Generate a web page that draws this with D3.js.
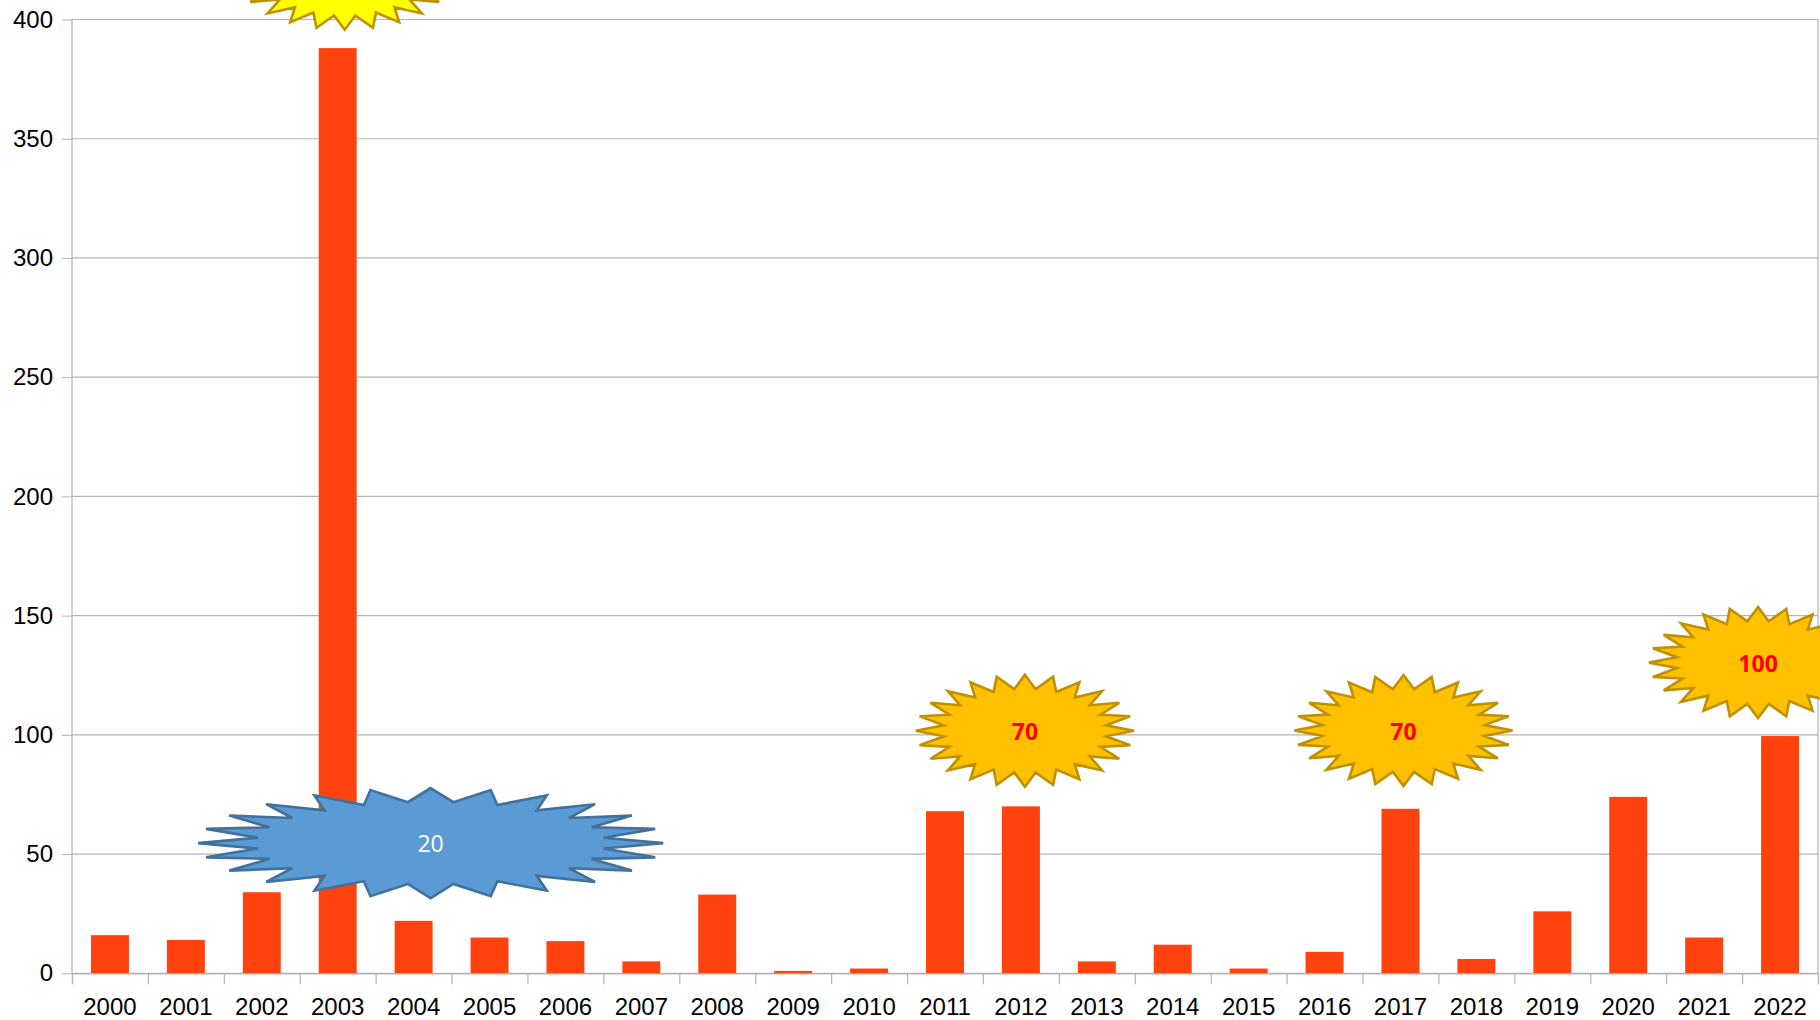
<!DOCTYPE html>
<html>
<head>
<meta charset="utf-8">
<script src="https://cdn.jsdelivr.net/npm/d3@7"></script>
<style>
  body { margin: 0; background: #fff; }
  svg { display: block; }
</style>
</head>
<body>
<svg id="chart" width="1820" height="1020"></svg>
<script>
// Data
const years = ["2000", "2001", "2002", "2003", "2004", "2005", "2006", "2007", "2008", "2009", "2010", "2011",
               "2012", "2013", "2014", "2015", "2016", "2017", "2018", "2019", "2020", "2021", "2022"];
const counts = [16, 14, 34, 388, 22, 15, 13.5, 5, 33, 1, 2, 68, 70, 5, 12, 2, 9, 69, 6, 26, 74, 15, 99.5];
const yTicks = [0, 50, 100, 150, 200, 250, 300, 350, 400];

// Starburst call-outs: label, anchor year, value at centre
const calloutLabels = ["", "20", "70", "70", "100"];
const calloutYears = ["2003", "2004", "2012", "2017", "2022"];
const calloutValues = [419, 54.6, 101.7, 101.8, 130.3];

// Layout
const margin = { left: 72, right: 2, top: 19.5, bottom: 46.7 };
const width = 1820, height = 1020;
const svg = d3.select("#chart");

const x = d3.scaleBand()
    .domain(years)
    .range([margin.left, width - margin.right])
    .paddingInner(0.5)
    .paddingOuter(0.25);

const y = d3.scaleLinear()
    .domain([0, 400])
    .range([height - margin.bottom, margin.top]);

// scale for the tick marks between categories
const xEdges = d3.scaleLinear()
    .domain([0, years.length])
    .range([margin.left, width - margin.right]);

const gridColor = "#b3b3b3";

// Horizontal grid lines + y labels
const yAxis = svg.append("g")
    .attr("transform", `translate(${margin.left},0)`)
    .call(d3.axisLeft(y).tickValues(yTicks).tickSize(10).tickPadding(9))
    .call(g => g.select(".domain").remove());
yAxis.selectAll(".tick line").attr("stroke", gridColor);
yAxis.selectAll(".tick text")
    .attr("font-family", "'Liberation Sans', Arial, sans-serif")
    .attr("font-size", 24)
    .attr("fill", "#000");

svg.append("g")
    .selectAll("line")
    .data(yTicks)
    .join("line")
    .attr("x1", margin.left)
    .attr("x2", width - margin.right)
    .attr("y1", d => y(d))
    .attr("y2", d => y(d))
    .attr("stroke", gridColor)
    .attr("stroke-width", 1.2);

// Vertical frame lines
svg.append("g")
    .selectAll("line")
    .data([0, years.length])
    .join("line")
    .attr("x1", d => xEdges(d))
    .attr("x2", d => xEdges(d))
    .attr("y1", y(400))
    .attr("y2", y(0))
    .attr("stroke", gridColor)
    .attr("stroke-width", 1.2);

// Bars
svg.append("g")
    .selectAll("rect")
    .data(counts)
    .join("rect")
    .attr("x", (d, i) => x(years[i]))
    .attr("width", x.bandwidth())
    .attr("y", d => y(d))
    .attr("height", d => y(0) - y(d))
    .attr("fill", "#ff420e");

// Bottom axis: tick marks between categories
const edgeAxis = svg.append("g")
    .attr("transform", `translate(0,${y(0)})`)
    .call(d3.axisBottom(xEdges).tickValues(d3.range(years.length + 1)).tickSize(11).tickFormat(""));
edgeAxis.select(".domain").attr("stroke", gridColor).attr("stroke-width", 1.2);
edgeAxis.selectAll(".tick line").attr("stroke", gridColor).attr("stroke-width", 1.2);

// Bottom axis: year labels
const xAxis = svg.append("g")
    .attr("transform", `translate(0,${y(0)})`)
    .call(d3.axisBottom(x).tickSize(0).tickPadding(25))
    .call(g => g.select(".domain").remove());
xAxis.selectAll(".tick text")
    .attr("font-family", "'Liberation Sans', Arial, sans-serif")
    .attr("font-size", 24)
    .attr("fill", "#000");

// 24-point star, inner radius 75% of outer
function starPath(rx, ry) {
    const n = 24, pts = [];
    for (let i = 0; i < 2 * n; i++) {
        const a = i * Math.PI / n;
        const r = i % 2 ? 0.75 : 1;
        pts.push([rx * r * Math.sin(a), -ry * r * Math.cos(a)]);
    }
    return d3.line()(pts) + "Z";
}

// per call-out look (size, shift from the band centre in px, colours)
const calloutStyle = [
    { rx: 109, ry: 55.5, dx: 7, fill: "#ffff00", stroke: "#bf9000", text: "#ff0000", bold: true },
    { rx: 232.5, ry: 55, dx: 17, fill: "#5b9bd5", stroke: "#41719c", text: "#ffffff", bold: false },
    { rx: 109, ry: 56, dx: 4, fill: "#ffc000", stroke: "#bf9000", text: "#ff0000", bold: true },
    { rx: 109, ry: 55.5, dx: 3, fill: "#ffc000", stroke: "#bf9000", text: "#ff0000", bold: true },
    { rx: 109, ry: 55.5, dx: -22, fill: "#ffc000", stroke: "#bf9000", text: "#ff0000", bold: true }
];

const callouts = svg.append("g")
    .selectAll("g")
    .data(calloutLabels)
    .join("g")
    .attr("transform", (d, i) =>
        `translate(${x(calloutYears[i]) + x.bandwidth() / 2 + calloutStyle[i].dx},${y(calloutValues[i])})`);

callouts.append("path")
    .attr("d", (d, i) => starPath(calloutStyle[i].rx, calloutStyle[i].ry))
    .attr("fill", (d, i) => calloutStyle[i].fill)
    .attr("stroke", (d, i) => calloutStyle[i].stroke)
    .attr("stroke-width", 2.6)
    .attr("stroke-linejoin", "miter");

callouts.append("text")
    .attr("text-anchor", "middle")
    .attr("y", 9)
    .attr("font-family", "'Open Sans', 'Noto Sans', sans-serif")
    .attr("font-size", 23)
    .attr("font-weight", (d, i) => calloutStyle[i].bold ? "bold" : "normal")
    .attr("fill", (d, i) => calloutStyle[i].text)
    .text(d => d);
</script>
</body>
</html>
